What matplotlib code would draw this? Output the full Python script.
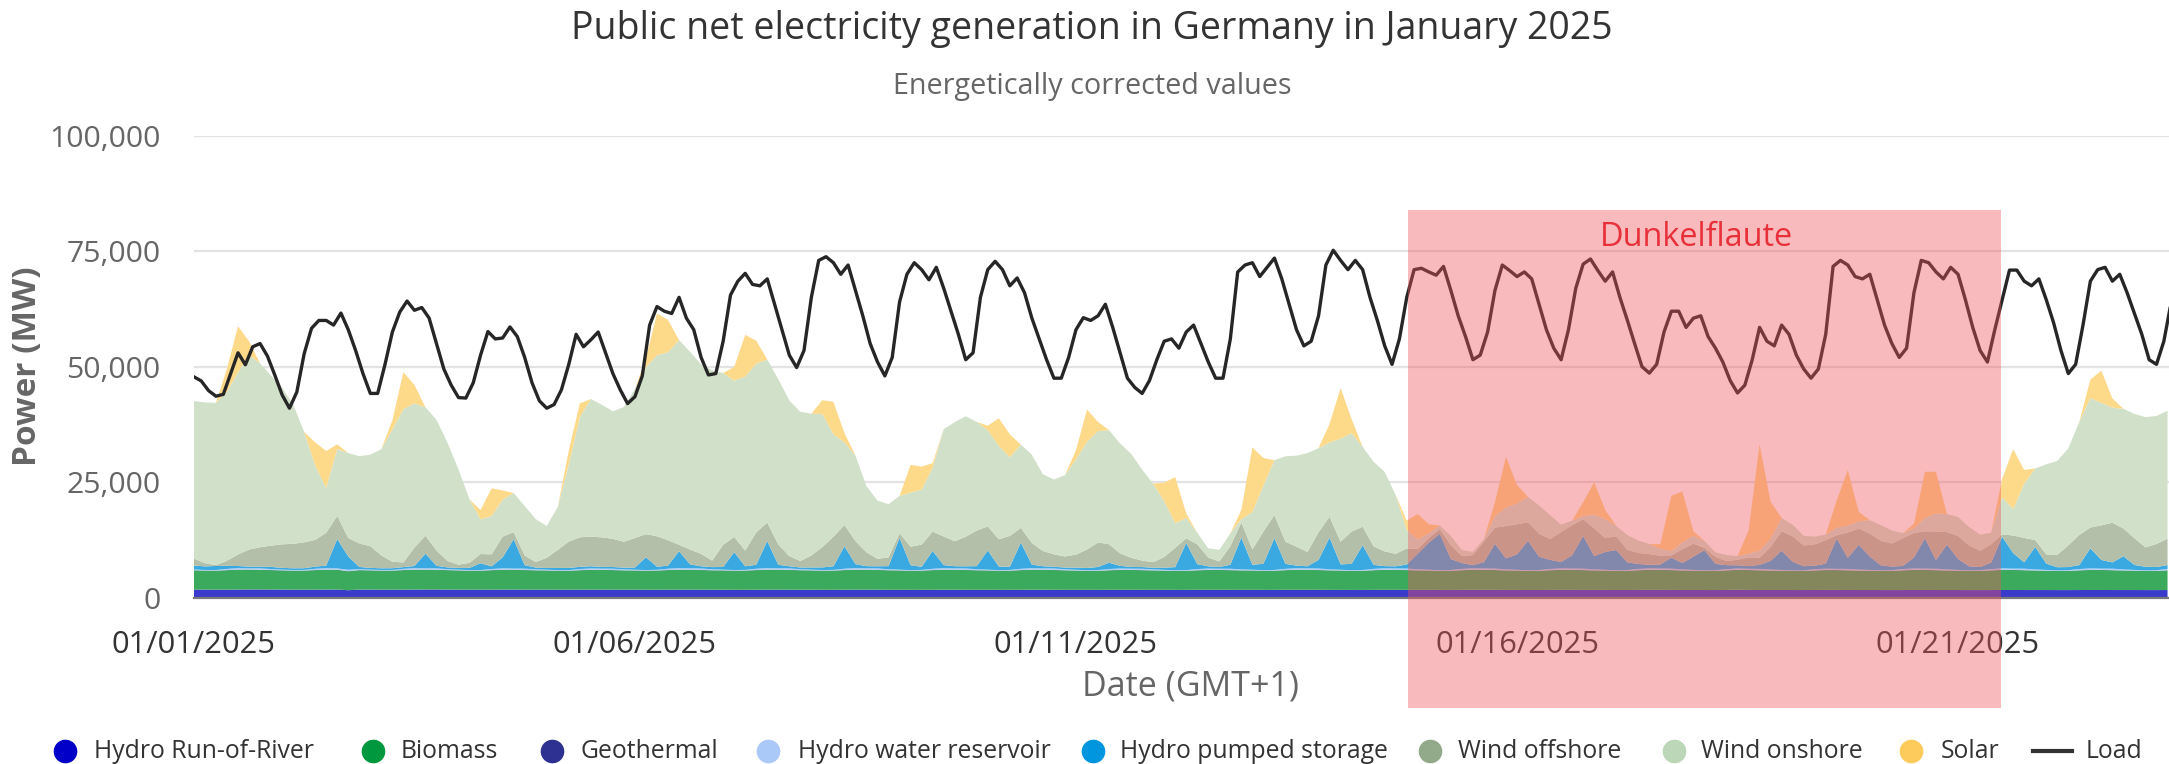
import matplotlib.pyplot as plt
import matplotlib.dates as mdates
from matplotlib.lines import Line2D
from matplotlib.patches import Rectangle
import pandas as pd

plt.rcParams['font.family'] = ['Open Sans', 'DejaVu Sans']

# Load (MW), 2-hourly values starting 01/01/2025 00:00
load = [
    47800, 46900, 44800, 43600, 44000, 48500, 53000, 50400, 54300, 55000, 52300, 48200,
    43900, 41000, 44500, 52800, 58300, 60000, 60000, 59000, 61600, 58000, 53500, 48500,
    44200, 44200, 50500, 57500, 61800, 64200, 62200, 62800, 60500, 55000, 49500, 46000,
    43300, 43200, 46500, 52500, 57600, 56000, 56200, 58600, 56500, 52000, 46500, 42600,
    41000, 41800, 45000, 50500, 57000, 54300, 55800, 57500, 53000, 48500, 45000, 42000,
    43500, 48000, 59000, 63000, 62000, 61500, 65000, 60500, 58000, 52000, 48200, 48500,
    55500, 65500, 68500, 70200, 67800, 67500, 69000, 63500, 58000, 52500, 49800, 53500,
    65000, 73000, 73800, 72500, 70000, 72000, 66500, 61000, 55000, 51000, 48000, 52000,
    64000, 70000, 72500, 71000, 68800, 71500, 67000, 62000, 57000, 51500, 53000, 65000,
    71000, 72800, 71000, 67500, 69200, 66000, 60500, 56000, 51500, 47500, 47500, 52000,
    58000, 60600, 60000, 61000, 63500, 58500, 53000, 47500, 45500, 44200, 47000, 51500,
    55500, 56000, 54000, 57500, 59000, 55000, 51000, 47500, 47500, 56000, 70500, 72000,
    72500, 69500, 71500, 73500, 69000, 63500, 58000, 54500, 55500, 61000, 72000, 75200,
    73000, 71000, 73000, 71000, 65000, 60000, 54500, 50500, 56000, 65000, 71000, 71300,
    70500, 69800, 71700, 66500, 61000, 56500, 51500, 52500, 57500, 66500, 72000, 70800,
    69500, 70500, 69000, 63500, 58000, 54000, 51500, 58000, 67000, 72200, 73300, 70800,
    68500, 70500, 65000, 60100, 55000, 50000, 48600, 50500, 57500, 62000, 62000, 58500,
    60500, 61000, 56500, 54000, 51000, 47000, 44300, 46000, 51500, 58500, 55500, 54500,
    59000, 57000, 52500, 49500, 47500, 49500, 57000, 71700, 73000, 72000, 69500, 69000,
    70000, 64500, 59000, 55000, 52000, 54000, 66000, 73000, 72500, 70500, 69000, 71500,
    70000, 64500, 58500, 53500, 51000, 58000, 64500, 70900, 70900, 68500, 67500, 69000,
    64500, 59500, 53500, 48500, 50500, 59000, 68500, 71000, 71500, 68500, 70000, 66000,
    61500, 57000, 51500, 50500, 55500, 64000,
]

# Generation (MW), 3-hourly values starting 01/01/2025 00:00
hydro_ror = [
    1750, 1740, 1730, 1730, 1740, 1760, 1760, 1750,
    1740, 1730, 1720, 1730, 1740, 1750, 1600, 1740,
    1740, 1730, 1720, 1730, 1740, 1750, 1750, 1740,
    1730, 1720, 1720, 1730, 1740, 1740, 1730, 1720,
    1720, 1710, 1710, 1720, 1730, 1730, 1720, 1710,
    1710, 1700, 1700, 1710, 1720, 1720, 1710, 1700,
    1700, 1690, 1690, 1700, 1710, 1710, 1700, 1700,
    1700, 1690, 1690, 1700, 1710, 1710, 1700, 1690,
    1690, 1680, 1680, 1690, 1700, 1700, 1690, 1690,
    1690, 1680, 1680, 1690, 1700, 1700, 1690, 1680,
    1680, 1680, 1670, 1680, 1690, 1690, 1680, 1680,
    1680, 1670, 1670, 1680, 1690, 1690, 1680, 1680,
    1680, 1670, 1670, 1680, 1690, 1690, 1680, 1670,
    1670, 1660, 1660, 1670, 1680, 1680, 1670, 1670,
    1670, 1660, 1660, 1670, 1680, 1680, 1670, 1660,
    1660, 1650, 1650, 1660, 1670, 1670, 1660, 1660,
    1660, 1650, 1650, 1660, 1670, 1670, 1660, 1650,
    1650, 1640, 1640, 1650, 1700, 1660, 1650, 1650,
    1650, 1640, 1640, 1650, 1660, 1660, 1650, 1640,
    1640, 1640, 1630, 1640, 1650, 1650, 1640, 1640,
    1640, 1630, 1630, 1640, 1650, 1650, 1640, 1640,
    1640, 1630, 1630, 1640, 1650, 1650, 1640, 1640,
    1640, 1630, 1630, 1640,
]
biomass = [
    4150, 4100, 4100, 4200, 4300, 4300, 4250, 4200,
    4150, 4100, 4120, 4220, 4300, 4280, 4100, 4200,
    4150, 4100, 4120, 4220, 4300, 4300, 4250, 4200,
    4150, 4100, 4100, 4200, 4280, 4280, 4230, 4180,
    4150, 4100, 4100, 4200, 4280, 4280, 4230, 4180,
    4150, 4120, 4150, 4250, 4320, 4320, 4260, 4200,
    4180, 4130, 4150, 4250, 4330, 4330, 4280, 4220,
    4180, 4130, 4150, 4250, 4330, 4330, 4280, 4220,
    4180, 4130, 4150, 4250, 4330, 4330, 4280, 4220,
    4180, 4130, 4150, 4250, 4330, 4330, 4280, 4220,
    4170, 4120, 4130, 4230, 4300, 4300, 4250, 4200,
    4160, 4110, 4120, 4220, 4290, 4290, 4250, 4200,
    4180, 4130, 4150, 4250, 4330, 4330, 4280, 4220,
    4180, 4130, 4150, 4250, 4330, 4330, 4280, 4220,
    4180, 4130, 4150, 4250, 4330, 4330, 4280, 4220,
    4180, 4130, 4150, 4250, 4330, 4330, 4280, 4220,
    4180, 4130, 4150, 4250, 4330, 4330, 4280, 4220,
    4170, 4120, 4130, 4230, 4300, 4300, 4250, 4200,
    4160, 4110, 4120, 4220, 4290, 4290, 4250, 4200,
    4180, 4130, 4150, 4250, 4330, 4330, 4280, 4220,
    4180, 4130, 4150, 4250, 4330, 4330, 4280, 4220,
    4180, 4130, 4150, 4250, 4330, 4330, 4280, 4220,
    4180, 4130, 4150, 4250,
]
geothermal = [
    25, 25, 25, 25, 25, 25, 25, 25,  25, 25, 25, 25, 25, 25, 25, 25,
    25, 25, 25, 25, 25, 25, 25, 25,  25, 25, 25, 25, 25, 25, 25, 25,
    25, 25, 25, 25, 25, 25, 25, 25,  25, 25, 25, 25, 25, 25, 25, 25,
    25, 25, 25, 25, 25, 25, 25, 25,  25, 25, 25, 25, 25, 25, 25, 25,
    25, 25, 25, 25, 25, 25, 25, 25,  25, 25, 25, 25, 25, 25, 25, 25,
    25, 25, 25, 25, 25, 25, 25, 25,  25, 25, 25, 25, 25, 25, 25, 25,
    25, 25, 25, 25, 25, 25, 25, 25,  25, 25, 25, 25, 25, 25, 25, 25,
    25, 25, 25, 25, 25, 25, 25, 25,  25, 25, 25, 25, 25, 25, 25, 25,
    25, 25, 25, 25, 25, 25, 25, 25,  25, 25, 25, 25, 25, 25, 25, 25,
    25, 25, 25, 25, 25, 25, 25, 25,  25, 25, 25, 25, 25, 25, 25, 25,
    25, 25, 25, 25, 25, 25, 25, 25,  25, 25, 25, 25, 25, 25, 25, 25,
    25, 25, 25, 25,
]
hydro_reservoir = [
    150, 120, 120, 250, 300, 250, 300, 200,  150, 120, 130, 260, 300, 260, 300, 200,
    150, 120, 130, 260, 300, 260, 300, 200,  150, 120, 120, 240, 280, 240, 280, 200,
    150, 120, 120, 240, 280, 240, 280, 200,  150, 120, 140, 270, 310, 270, 310, 210,
    150, 120, 140, 270, 310, 270, 310, 210,  150, 120, 140, 270, 310, 270, 310, 210,
    150, 120, 140, 270, 310, 270, 310, 210,  150, 120, 140, 270, 310, 270, 310, 210,
    150, 120, 130, 250, 290, 250, 290, 200,  150, 120, 130, 250, 290, 250, 290, 200,
    150, 120, 140, 270, 310, 270, 310, 210,  150, 120, 140, 270, 310, 270, 310, 210,
    150, 120, 140, 270, 310, 270, 310, 210,  150, 120, 140, 270, 310, 270, 310, 210,
    150, 120, 140, 270, 310, 270, 310, 210,  150, 120, 130, 250, 290, 250, 290, 200,
    150, 120, 130, 250, 290, 250, 290, 200,  150, 120, 140, 270, 310, 270, 310, 210,
    150, 120, 140, 270, 310, 270, 310, 210,  150, 120, 140, 270, 310, 270, 310, 210,
    150, 120, 140, 270,
]
hydro_pumped = [
    870, 770, 870, 670, 470, 370, 370, 470,
    370, 370, 370, 470, 570, 6370, 2870, 470,
    370, 370, 370, 370, 470, 3170, 570, 370,
    370, 470, 1470, 570, 2370, 6370, 770, 370,
    370, 470, 470, 470, 470, 370, 370, 370,
    470, 2770, 670, 670, 3670, 870, 470, 470,
    570, 3870, 770, 870, 5870, 770, 470, 370,
    470, 570, 770, 4870, 870, 470, 470, 670,
    6870, 1070, 670, 3870, 670, 470, 470, 670,
    4170, 770, 670, 5670, 770, 470, 370, 370,
    470, 470, 670, 1370, 570, 370, 370, 370,
    470, 670, 5870, 1070, 470, 370, 870, 6870,
    1070, 1370, 6870, 1070, 570, 470, 1870, 6870,
    1170, 1370, 5370, 870, 470, 470, 870, 3370,
    5870, 7870, 2370, 1270, 670, 1370, 5370, 2370,
    3370, 6370, 2870, 1970, 1370, 2870, 7070, 2870,
    3870, 4370, 1670, 1070, 770, 870, 2370, 1370,
    2870, 4370, 1370, 870, 670, 570, 870, 1870,
    4170, 1870, 870, 770, 1070, 6570, 2370, 5370,
    2870, 1070, 770, 670, 2370, 6570, 1870, 5370,
    2370, 870, 670, 1370, 6870, 3370, 1370, 4870,
    1370, 670, 670, 870, 4370, 1870, 1370, 2870,
    1070, 770, 670, 870,
]
wind_offshore = [
    1500, 700, 200, 1100, 2500, 3700, 4200, 4600,
    5100, 5300, 5600, 5800, 7100, 5000, 4000, 5100,
    4700, 2800, 1400, 1000, 4000, 3900, 3300, 1400,
    700, 1100, 2000, 2600, 4500, 1500, 2100, 1200,
    2200, 3900, 5700, 6400, 6400, 6400, 6100, 5600,
    6400, 5000, 6600, 5500, 1400, 3200, 2700, 1400,
    4800, 3300, 3400, 7000, 4000, 4400, 2200, 1400,
    2600, 4400, 6400, 4600, 5000, 3000, 1600, 1900,
    1000, 4000, 4800, 4200, 6200, 5400, 6400, 7700,
    5200, 5900, 6700, 3200, 4700, 3300, 2700, 2400,
    2800, 4000, 5300, 4000, 2700, 2000, 1400, 1200,
    2300, 4200, 1000, 4300, 1900, 1200, 4000, 3300,
    3300, 7000, 5000, 4800, 4100, 3100, 6000, 4500,
    4900, 7000, 4000, 4000, 3200, 2700, 3500, 1000,
    1000, 1000, 3000, 1500, 2200, 4500, 3500, 7000,
    6500, 4000, 5000, 4500, 6500, 6500, 3600, 6000,
    3000, 3000, 2700, 2400, 2300, 1900, 500, 3000,
    2800, 500, 1500, 900, 1200, 1900, 1500, 3000,
    4200, 5500, 4500, 4600, 5100, 700, 5500, 3500,
    5000, 5300, 5000, 6000, 5300, 1500, 6200, 2700,
    5000, 4500, 3500, 4000, 500, 3800, 5300, 1500,
    2000, 2700, 4700, 6500, 4500, 7500, 8600, 6000,
    5800, 4200, 5000, 5700,
]
wind_onshore = [
    34100, 34800, 35100, 36600, 39400, 42100, 39800, 36800,
    33900, 30200, 23900, 16100, 9700, 14500, 18400, 18900,
    19800, 23000, 28600, 33200, 31200, 27800, 28300, 25600,
    20600, 13700, 7500, 8300, 8000, 8500, 10700, 9300,
    6900, 9300, 16700, 26000, 29800, 28700, 27600, 29200,
    32300, 36100, 39200, 40700, 44300, 42800, 41000, 41200,
    37200, 33800, 37700, 36500, 35300, 35800, 33700, 32300,
    30700, 28800, 22200, 17900, 18500, 14300, 12600, 11500,
    8100, 11700, 11900, 13800, 23200, 25800, 26100, 23500,
    20800, 20200, 17000, 18000, 19100, 16600, 16200, 17600,
    20600, 23300, 24100, 24700, 23800, 22500, 19700, 17000,
    12100, 5300, 4400, 2500, 2000, 2500, 2800, 700,
    8100, 9900, 11900, 18500, 19700, 21400, 18200, 16100,
    22300, 21300, 17300, 18300, 17200, 12700, 4000, 2100,
    1000, 800, 2000, 1300, 700, 500, 2500, 4000,
    4500, 5500, 6100, 5200, 1600, 1000, 700, 3000,
    4100, 2200, 3200, 2700, 2200, 1500, 900, 1500,
    1700, 1500, 1000, 1300, 800, 800, 1600, 1800,
    2900, 2500, 2100, 1700, 1200, 1600, 1500, 1600,
    2900, 3400, 2800, 1100, 1000, 2900, 3900, 3900,
    4100, 4000, 3500, 2500, 8000, 5700, 11700, 15500,
    19500, 20300, 21000, 24500, 28000, 26500, 24900, 25900,
    26900, 28200, 27700, 27700,
]
solar = [
    0, 0, 0, 5000, 10000, 3000, 0, 0,
    0, 0, 0, 5000, 8000, 1000, 0, 0,
    0, 0, 2000, 8000, 4000, 0, 0, 0,
    0, 0, 2000, 6000, 2000, 0, 0, 0,
    0, 0, 3000, 3000, 0, 0, 0, 0,
    0, 2000, 9000, 7000, 0, 0, 0, 0,
    0, 3000, 9000, 5000, 0, 0, 0, 0,
    0, 3000, 7000, 2000, 0, 0, 0, 0,
    0, 6000, 5000, 1000, 0, 0, 0, 0,
    1000, 6000, 5000, 0, 0, 0, 0, 0,
    2000, 7000, 2000, 0, 0, 0, 0, 0,
    4000, 10000, 1000, 0, 0, 0, 0, 2000,
    14000, 6000, 0, 0, 0, 0, 0, 4000,
    11000, 3000, 0, 0, 0, 0, 2000, 5500,
    2000, 0, 0, 0, 0, 0, 3000, 11000,
    4000, 0, 0, 0, 0, 0, 3000, 7000,
    2000, 0, 0, 0, 0, 1000, 12000, 11000,
    1000, 0, 0, 0, 0, 5000, 23000, 8000,
    0, 0, 0, 0, 0, 6000, 12000, 2000,
    0, 0, 0, 0, 1000, 10000, 9000, 0,
    0, 0, 0, 0, 4000, 13000, 3000, 0,
    0, 0, 0, 0, 4000, 7000, 2000, 0,
    0, 0, 0, 0,
]

names = ["Hydro Run-of-River", "Biomass", "Geothermal", "Hydro water reservoir",
         "Hydro pumped storage", "Wind offshore", "Wind onshore", "Solar"]
area_colors = ["#3b3bcb", "#3caa5c", "#3a3d9e", "#b4cdf6",
               "#3aa9e2", "#b3bfa9", "#d1e1c9", "#fdd98a"]
legend_colors = ["#0000c8", "#00983e", "#2e3192", "#aac8f8",
                 "#0095df", "#92aa8a", "#bcd7b8", "#fdca5c"]

tick_dates = ["2025-01-01", "2025-01-06", "2025-01-11", "2025-01-16", "2025-01-21"]
dunkel_start = pd.Timestamp("2025-01-14 18:15")
dunkel_end = pd.Timestamp("2025-01-21 11:45")

t_load = pd.date_range("2025-01-01", periods=len(load), freq="2h")
t_gen = pd.date_range("2025-01-01", periods=len(solar), freq="3h")

fig = plt.figure(figsize=(21.69, 7.64), dpi=100)
ax = fig.add_axes([0.0894, 0.2178, 0.9106, 0.6046])

ax.stackplot(t_gen, hydro_ror, biomass, geothermal, hydro_reservoir, hydro_pumped,
             wind_offshore, wind_onshore, solar, colors=area_colors, linewidth=0, zorder=2)
ax.plot(t_load, load, color="#262626", lw=2.4, zorder=3)

ax.set_xlim(pd.Timestamp("2025-01-01"), pd.Timestamp("2025-01-23 09:24"))
ax.set_ylim(0, 100000)
ax.set_yticks([0, 25000, 50000, 75000, 100000])
ax.set_yticklabels([f"{v:,}" for v in [0, 25000, 50000, 75000, 100000]])
ax.set_xticks(pd.to_datetime(tick_dates))
ax.xaxis.set_major_formatter(mdates.DateFormatter("%m/%d/%Y"))
ax.tick_params(axis="y", length=0, pad=24, labelsize=21.8, labelcolor="#666666")
ax.tick_params(axis="x", length=0, pad=23, labelsize=22.2, labelcolor="#333333")
ax.grid(axis="y", color="#e3e3e3", lw=1.6, zorder=0)
ax.set_axisbelow(True)
for s in ["top", "right", "left"]:
    ax.spines[s].set_visible(False)
ax.spines["bottom"].set_color("#7a7a7a")
ax.spines["bottom"].set_linewidth(1.6)
ax.spines["bottom"].set_zorder(4)

# Dunkelflaute period
x0 = mdates.date2num(dunkel_start)
x1 = mdates.date2num(dunkel_end)
ax.add_patch(Rectangle((x0, -23900), x1 - x0, 107800, facecolor=(239/255, 84/255, 91/255, 0.4),
                       edgecolor="none", clip_on=False, zorder=10))
fig.text(0.782, 0.6885, "Dunkelflaute", color="#e8303a", fontsize=23.4,
         ha="center", va="center", zorder=11)

fig.text(0.5035, 0.962, "Public net electricity generation in Germany in January 2025",
         fontsize=27, color="#333333", ha="center", va="center")
fig.text(0.5035, 0.887, "Energetically corrected values", fontsize=20.7,
         color="#666666", ha="center", va="center")
fig.text(0.0125, 0.521, "Power (MW)", rotation=90, fontsize=24, fontweight="bold",
         color="#666666", ha="center", va="center")
fig.text(0.549, 0.1008, "Date (GMT+1)", fontsize=24.5, color="#666666", ha="center", va="center")

# legend
marker_x = [65, 373, 552, 768, 1093, 1430, 1674, 1911]
text_x = [94, 401, 580, 798, 1120, 1458, 1701, 1941]
ly = 1 - 751 / 764
for name, col, mx, tx in zip(names, legend_colors, marker_x, text_x):
    fig.add_artist(Line2D([mx / 2169], [ly], marker="o", markersize=16, color=col,
                          transform=fig.transFigure, linestyle="none"))
    fig.text(tx / 2169, ly, name, fontsize=17.8, color="#333333", ha="left", va="center")
fig.add_artist(Line2D([2033 / 2169, 2072 / 2169], [ly, ly], color="#333333", lw=3,
                      transform=fig.transFigure))
fig.text(2086 / 2169, ly, "Load", fontsize=17.8, color="#333333", ha="left", va="center")

fig.savefig("out.png", dpi=100)
